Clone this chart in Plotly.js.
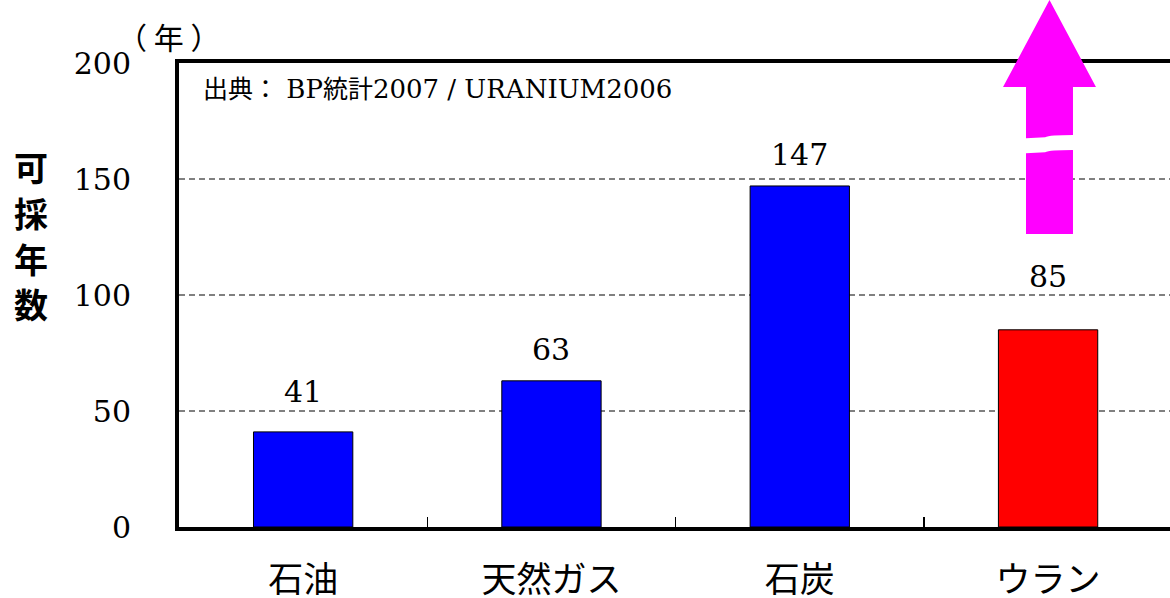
<!DOCTYPE html>
<html>
<head>
<meta charset="utf-8">
<script src="https://cdn.plot.ly/plotly-3.0.1.min.js"></script>
<style>html,body{margin:0;padding:0;background:#fff;overflow:hidden}</style>
</head>
<body>
<div id="chart" style="width:1170px;height:598px"></div>
<script>
// ---- data ----
const categories = ['石油', '天然ガス', '石炭', 'ウラン'];
const years = [41, 63, 147, 85];
const yTickValues = [0, 50, 100, 150, 200];
const yTickLabels = ['0', '50', '100', '150', '200'];
const yTitleChars = ['可', '採', '年', '数'];

// ---- style ----
const barColors = ['#0000FF', '#0000FF', '#0000FF', '#FF0000'];
const labelLift = [40, 31, 31, 53]; // px between bar top and label centre
const serif = 'DejaVu Serif, Liberation Serif, serif';
const gothic = 'Noto Sans CJK JP, Noto Sans, sans-serif';

const trace = {
  type: 'bar',
  x: categories,
  y: years,
  width: 0.4,
  marker: {color: barColors, line: {color: '#000', width: 1}},
  hoverinfo: 'skip'
};

const annotations = categories.map((c, i) => ({
  x: c, y: years[i], xref: 'x', yref: 'y',
  text: String(years[i]), showarrow: false,
  xanchor: 'center', yanchor: 'middle', yshift: labelLift[i],
  font: {family: serif, size: 30, color: '#000'}
}));

annotations.push({
  xref: 'paper', yref: 'paper', x: 0.022, y: 0.948,
  xanchor: 'left', yanchor: 'middle', showarrow: false,
  text: "<span style=\"font-family:'Noto Sans CJK JP';font-size:25px\">出典：</span> BP<span style=\"font-family:'Noto Sans CJK JP';font-size:25px\">統計</span>2007 / URANIUM2006",
  font: {family: serif, size: 26, color: '#000'}
});

// vertical axis title, one character per line
const titleTop = 0.777, titlePitch = 45.8 / 464;
yTitleChars.forEach((ch, i) => {
  annotations.push({
    xref: 'paper', yref: 'paper', x: -0.149, y: titleTop - i * titlePitch,
    xanchor: 'center', yanchor: 'middle', showarrow: false,
    text: ch,
    font: {family: gothic, size: 34, color: '#000', weight: 'bold'}
  });
});

annotations.push({
  xref: 'paper', yref: 'paper', x: -0.011, y: 1.0582,
  xanchor: 'center', yanchor: 'middle', showarrow: false,
  text: '（ 年 ）',
  font: {family: gothic, size: 30, color: '#000'}
});

const magenta = '#FF00FF';
const shapes = [
  {
    type: 'path', xref: 'paper', yref: 'paper', layer: 'above',
    path: 'M 0.8784,1.1358 L 0.9253,0.9483 L 0.9021,0.9483 L 0.9021,0.8448 ' +
          'Q 0.8784,0.8448 0.8740,0.8400 L 0.8547,0.8377 L 0.8547,0.9483 L 0.8315,0.9483 Z',
    fillcolor: magenta, line: {width: 0}
  },
  {
    type: 'path', xref: 'paper', yref: 'paper', layer: 'above',
    path: 'M 0.8547,0.6315 L 0.9021,0.6315 L 0.9021,0.8125 ' +
          'Q 0.8784,0.8125 0.8740,0.8078 L 0.8547,0.8054 Z',
    fillcolor: magenta, line: {width: 0}
  }
];

const layout = {
  width: 1170, height: 598,
  margin: {l: 179, r: 0, t: 63, b: 71, pad: 0},
  paper_bgcolor: '#fff', plot_bgcolor: '#fff',
  showlegend: false,
  bargap: 0.6,
  xaxis: {
    type: 'category',
    range: [-0.5, 3.491],
    showline: true, linecolor: '#000', linewidth: 4, mirror: true,
    ticks: 'inside', ticklen: 10, tickwidth: 1.5, tickcolor: '#000',
    tickson: 'boundaries',
    showgrid: false, zeroline: false,
    tickfont: {family: gothic, size: 35, color: '#000'},
    ticklabelstandoff: 19,
    fixedrange: true
  },
  yaxis: {
    range: [0, 200],
    tickvals: yTickValues, ticktext: yTickLabels,
    showline: true, linecolor: '#000', linewidth: 4,
    ticks: '',
    showgrid: true, gridcolor: '#808080', gridwidth: 1.5, griddash: '6px,4px',
    zeroline: false,
    tickfont: {family: serif, size: 30, color: '#000'},
    ticklabelstandoff: 38,
    fixedrange: true
  },
  annotations: annotations,
  shapes: shapes
};

Plotly.newPlot('chart', [trace], layout, {staticPlot: true, displayModeBar: false});
</script>
</body>
</html>
